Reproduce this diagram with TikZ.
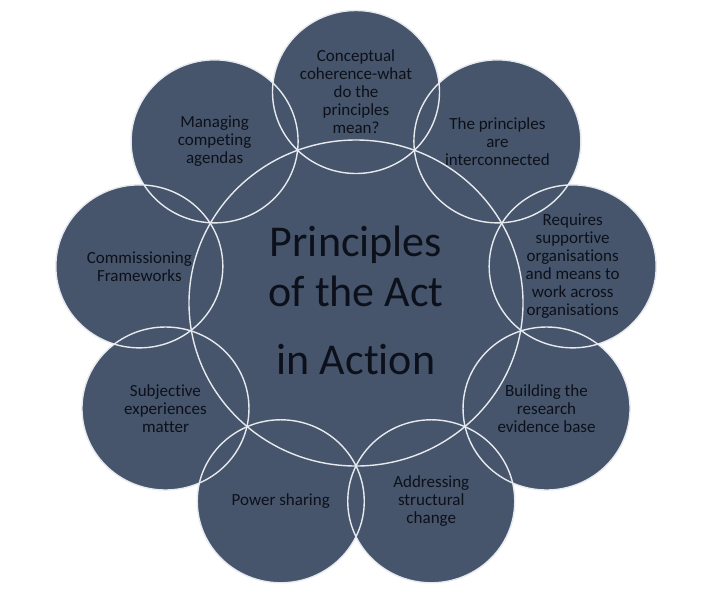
\documentclass[tikz,border=0pt]{standalone}
\usepackage{fontspec}
\setmainfont{Carlito}[Ligatures=NoCommon]
\definecolor{slate}{RGB}{70,85,107}
\definecolor{rim}{RGB}{230,234,239}
\definecolor{ink}{RGB}{12,16,26}
\begin{document}
\begin{tikzpicture}[x=1pt,y=-1pt,
  petal/.style={font=\fontsize{17}{18}\selectfont, align=center, text=ink, inner sep=0pt},
  hub/.style={font=\fontsize{44}{50}\selectfont, align=center, text=ink, inner sep=0pt},
  disc/.style={fill=slate},
  ring/.style={draw=rim, line width=1.4pt}]
\fill[white] (0,0) rectangle (709,598);
\useasboundingbox (0,0) rectangle (709,598);
\coordinate (c0) at (356,303);
\foreach \a [count=\i] in {90,50,10,-30,-70,-110,-150,170,130}
  \coordinate (o\i) at ([shift={(\a:220pt and 211pt)}]c0);
% fills
\foreach \i in {1,...,9} \path[disc] (o\i) ellipse[x radius=83.5pt, y radius=81.5pt];
\path[disc] (c0) ellipse[x radius=167pt, y radius=163pt];
% outlines
\foreach \i in {1,...,9} \path[ring] (o\i) ellipse[x radius=83.5pt, y radius=81.5pt];
\path[ring] (c0) ellipse[x radius=167pt, y radius=163pt];
% texts
\node[hub] (hubtext) at (356,300) {Principles\\of the Act\\[18pt]in Action};
\node[petal] (t1) at (o1) {Conceptual\\coherence-what\\do the\\principles\\mean?};
\node[petal] (t2) at (o2) {The principles\\are\\interconnected};
\node[petal] (t3) at (o3) {Requires\\supportive\\organisations\\and means to\\work across\\organisations};
\node[petal] (t4) at (o4) {Building the\\research\\evidence base};
\node[petal] (t5) at (o5) {Addressing\\structural\\change};
\node[petal] (t6) at (o6) {Power sharing};
\node[petal] (t7) at (o7) {Subjective\\experiences\\matter};
\node[petal] (t8) at (o8) {Commissioning\\Frameworks};
\node[petal] (t9) at (o9) {Managing\\competing\\agendas};
\end{tikzpicture}
\end{document}
